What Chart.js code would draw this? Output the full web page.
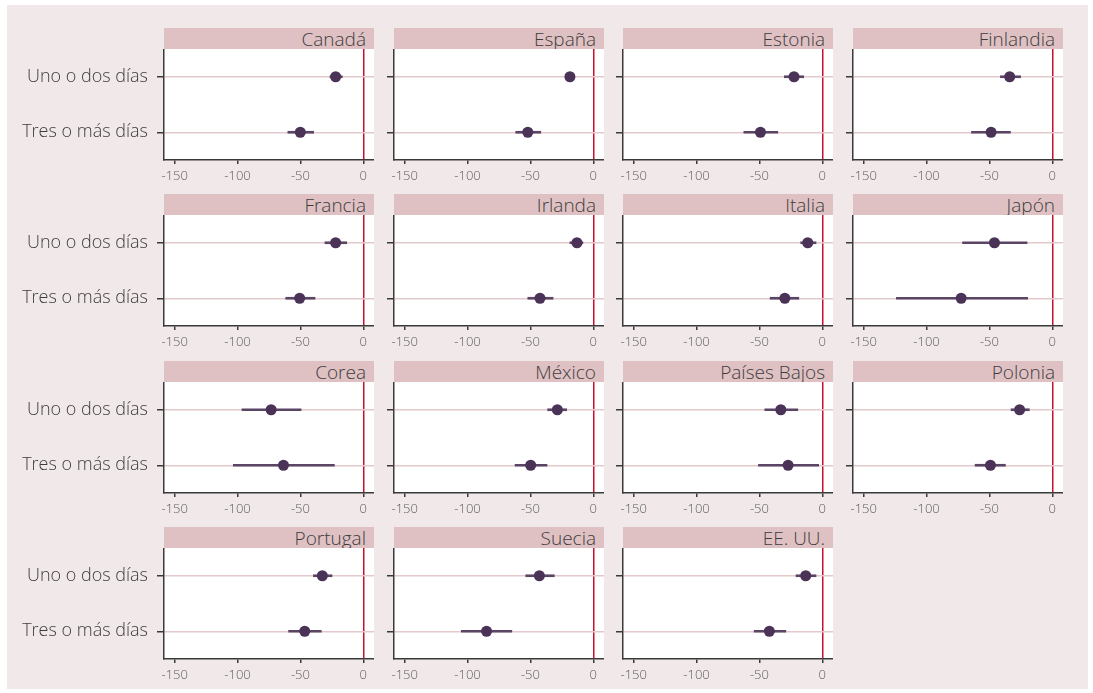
<!DOCTYPE html>
<html>
<head>
<meta charset="utf-8">
<script src="https://cdn.jsdelivr.net/npm/chart.js@4/dist/chart.umd.min.js"></script>
<style>
    html, body { margin: 0; padding: 0; background: #ffffff; }
    #frame {
        position: absolute; left: 7px; top: 5px; width: 1081px; height: 684px;
        background: #f0e8e9;
    }
    .strip {
        position: absolute; height: 21px; background: #dfc1c3;
        font-family: "Open Sans", sans-serif; font-weight: 300; font-size: 19px;
        color: #3d3d3d; text-align: right; box-sizing: border-box;
        padding-right: 8px; line-height: 23px; overflow: hidden; white-space: nowrap;
    }
    canvas { position: absolute; }
</style>
</head>
<body>
<div id="frame"></div>
<div id="panels"></div>
<script>
const countries = ["Canadá", "España", "Estonia", "Finlandia", "Francia", "Irlanda", "Italia", "Japón",
    "Corea", "México", "Países Bajos", "Polonia", "Portugal", "Suecia", "EE. UU."];
const categories = ["Uno o dos días", "Tres o más días"];

// Uno o dos días: estimate and confidence interval
const est1 = [-22, -18.6, -22.5, -33.9, -22, -13, -11.6, -46, -73.3, -28.6, -33, -26, -32.6, -42.9, -13.2];
const lo1 = [-26.5, -21.5, -30.2, -41.3, -30.5, -18.6, -17.2, -71.4, -96.5, -36.3, -45.7, -32.8, -39.7, -53.7, -20.9];
const hi1 = [-16.7, -15.7, -14.8, -25.2, -13.2, -8.3, -5, -20.1, -49.5, -21.2, -19.5, -18.3, -24.9, -31, -5];

// Tres o más días
const est2 = [-50.1, -52.1, -49.2, -48.7, -50.6, -42.4, -29.8, -72.5, -63.5, -49.8, -27.2, -49.2, -46.6, -84.9, -42.1];
const lo2 = [-60, -61.7, -62.4, -64.3, -61.7, -52.1, -41.5, -124, -103.4, -62.2, -50.8, -61.4, -59.4, -105, -54.2];
const hi2 = [-39.5, -41.8, -35.4, -33.3, -38.4, -32, -18.7, -19.6, -23, -36.8, -2.9, -37.3, -33.4, -64.8, -29];

const xTicks = [-150, -100, -50, 0];
const xMin = -158.5, xMax = 8.5;

const FONT = "'Open Sans', sans-serif";
const PLOT_W = 210, PLOT_H = 111, X_AXIS_H = 30;

// white plot area behind grid and marks
const plotBg = {
    id: "plotBg",
    beforeDraw(chart) {
        const { ctx, chartArea: a } = chart;
        ctx.save();
        ctx.fillStyle = "#ffffff";
        ctx.fillRect(a.left, a.top, a.width, a.height);
        ctx.restore();
    },
};

function makePanel(i) {
    const col = i % 4, row = Math.floor(i / 4);
    const plotLeft = Math.round(164 + col * 229.5);
    const plotTop = Math.round(49 + row * 166.3);
    const yW = col === 0 ? 158 : 14;

    const strip = document.createElement("div");
    strip.className = "strip";
    strip.style.left = plotLeft + "px";
    strip.style.top = (plotTop - 21) + "px";
    strip.style.width = PLOT_W + "px";
    strip.textContent = countries[i];
    document.getElementById("panels").appendChild(strip);

    const cv = document.createElement("canvas");
    cv.width = yW + PLOT_W;
    cv.height = PLOT_H + X_AXIS_H;
    cv.style.left = (plotLeft - yW) + "px";
    cv.style.top = plotTop + "px";
    document.getElementById("panels").appendChild(cv);

    new Chart(cv.getContext("2d"), {
        type: "bar",
        plugins: [plotBg],
        data: {
            labels: categories,
            datasets: [
                {
                    type: "scatter",
                    data: [
                        { x: est1[i], y: categories[0] },
                        { x: est2[i], y: categories[1] },
                    ],
                    backgroundColor: "#4b3357",
                    borderColor: "#4b3357",
                    pointRadius: 5.5,
                    borderWidth: 0,
                },
                {
                    data: [[lo1[i], hi1[i]], [lo2[i], hi2[i]]],
                    backgroundColor: "#5a4565",
                    barThickness: 2,
                    borderWidth: 0,
                },
            ],
        },
        options: {
            indexAxis: "y",
            responsive: false,
            devicePixelRatio: 1,
            animation: false,
            layout: { padding: 0, autoPadding: false },
            plugins: { legend: { display: false }, tooltip: { enabled: false } },
            scales: {
                x: {
                    type: "linear",
                    min: xMin,
                    max: xMax,
                    afterBuildTicks: (axis) => { axis.ticks = xTicks.map((v) => ({ value: v })); },
                    afterFit: (axis) => {
                        axis.height = X_AXIS_H;
                        axis.paddingLeft = 0;
                        axis.paddingRight = 0;
                    },
                    grid: {
                        color: (ctx) => (ctx.tick && ctx.tick.value === 0 ? "#c8102e" : "rgba(0,0,0,0)"),
                        lineWidth: 1.5,
                        tickColor: "#3a3a3a",
                        tickLength: 4,
                    },
                    border: { color: "#3a3a3a", width: 1.5 },
                    ticks: {
                        color: "#5c5c5c",
                        font: { family: FONT, size: 13, weight: 300 },
                        padding: 4,
                        maxRotation: 0,
                        callback: (v) => String(v),
                    },
                },
                y: {
                    type: "category",
                    offset: true,
                    afterFit: (axis) => {
                        axis.width = yW;
                        axis.paddingTop = 0;
                        axis.paddingBottom = 0;
                    },
                    grid: {
                        offset: false,
                        color: "#e4c9cc",
                        lineWidth: 1.5,
                        tickColor: "#3a3a3a",
                        tickLength: 7,
                    },
                    border: { color: "#3a3a3a", width: 1.5 },
                    ticks: {
                        color: "#3d3d3d",
                        font: { family: FONT, size: 18, weight: 300 },
                        padding: 9,
                        callback: (v, idx) => (col === 0 ? categories[idx] : ""),
                    },
                },
            },
        },
    });
}

countries.forEach((c, i) => makePanel(i));
</script>
</body>
</html>
